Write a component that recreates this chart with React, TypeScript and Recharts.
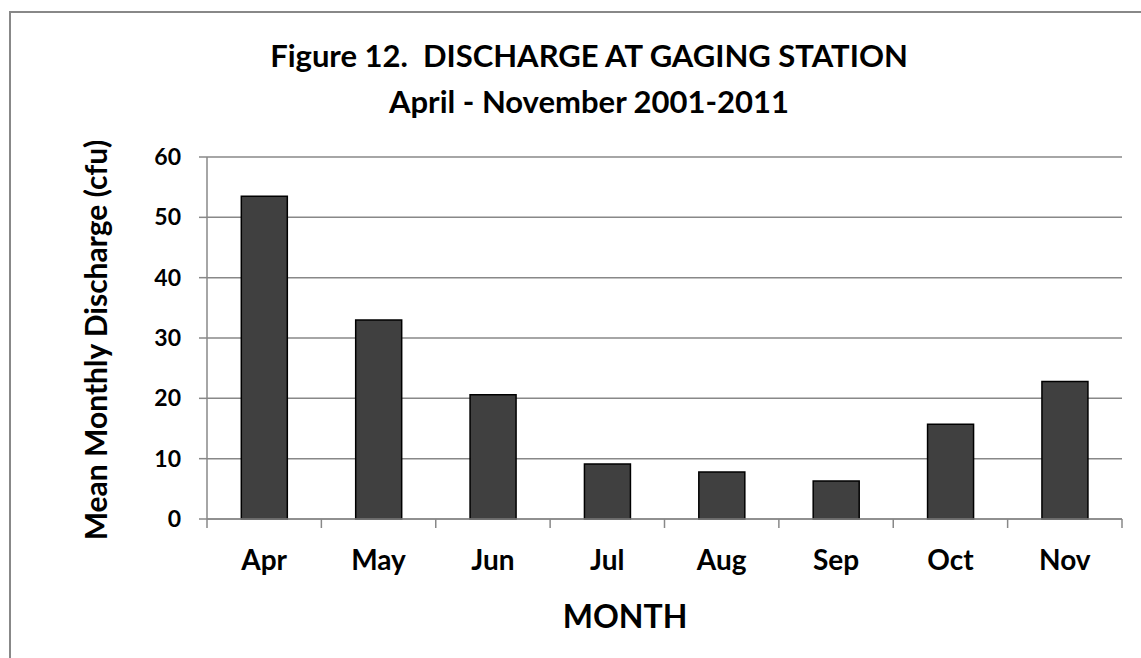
import React from "react";
import { BarChart, Bar, XAxis, YAxis, CartesianGrid, Label } from "recharts";

const months = ["Apr", "May", "Jun", "Jul", "Aug", "Sep", "Oct", "Nov"];
const meanDischarge = [53.5, 33.0, 20.6, 9.1, 7.8, 6.3, 15.7, 22.8];
const yTicks = [0, 10, 20, 30, 40, 50, 60];

const titleLines = ["Figure 12.  DISCHARGE AT GAGING STATION", "April - November 2001-2011"];

const FONT = "Lato, 'Liberation Sans', sans-serif";
const GRID = "#888888";

const data = months.map((m, i) => ({ month: m, discharge: meanDischarge[i] }));

// category ticks: label in the middle, tick marks on the band edges (like Excel)
const MonthTick = (props: any) => {
  const { x, y, payload, index } = props;
  const half = payload && payload.offset ? payload.offset : 57.2;
  const last = index === months.length - 1;
  return (
    <g>
      <line x1={x - half} y1={y - 9} x2={x - half} y2={y} stroke={GRID} strokeWidth={1.5} />
      {last && <line x1={x + half} y1={y - 9} x2={x + half} y2={y} stroke={GRID} strokeWidth={1.5} />}
      <text x={x} y={y + 32} dy="0.35em" textAnchor="middle" fontSize={28} fontWeight="bold" fontFamily={FONT} fill="#000">
        {payload.value}
      </text>
    </g>
  );
};

const YTitle = (props: any) => {
  const vb = props.viewBox || { x: 0, y: 0, width: 0, height: 0 };
  const cx = 95;
  const cy = vb.y + vb.height / 2 + 2;
  return (
    <text x={cx} y={cy} transform={`rotate(-90 ${cx} ${cy})`} textAnchor="middle" dominantBaseline="central"
      fontSize={30} fontWeight="bold" fontFamily={FONT} fill="#000">
      Mean Monthly Discharge (cfu)
    </text>
  );
};

const XTitle = (props: any) => {
  const vb = props.viewBox || { x: 0, y: 0, width: 0, height: 0 };
  return (
    <text x={625} y={vb.y + 96} dominantBaseline="central" textAnchor="middle"
      fontSize={32} fontWeight="bold" fontFamily={FONT} fill="#000">
      MONTH
    </text>
  );
};

export default function App() {
  return (
    <div style={{ position: "absolute", left: 0, top: 0, width: 1141, height: 658, overflow: "hidden", background: "#fff" }}>
      <div style={{ position: "absolute", left: 9, top: 11, width: 1200, height: 700, borderLeft: `2px solid ${GRID}`, borderTop: `2px solid ${GRID}` }} />
      <svg width={1141} height={130} style={{ position: "absolute", left: 0, top: 0 }}>
        {titleLines.map((t, i) => (
          <text key={i} x={589} y={67 + i * 46} textAnchor="middle" fontFamily={FONT} fontWeight="bold" fontSize={31}
            fill="#000" style={{ whiteSpace: "pre" }}>
            {t}
          </text>
        ))}
      </svg>
      <div style={{ position: "absolute", left: 0, top: 0 }}>
        <BarChart width={1141} height={658} data={data} margin={{ top: 157, right: 19, bottom: 0, left: 7 }} barCategoryGap="30%">
          <CartesianGrid vertical={false} stroke={GRID} strokeWidth={1.5} />
          <XAxis dataKey="month" height={139} tickLine={false} tickSize={9} tickMargin={0}
            axisLine={{ stroke: GRID, strokeWidth: 1.5 }} tick={<MonthTick />} interval={0}>
            <Label content={<XTitle />} />
          </XAxis>
          <YAxis width={200} domain={[0, 60]} ticks={yTicks} interval={0} tickSize={8} tickMargin={18}
            tickLine={{ stroke: GRID, strokeWidth: 1.5 }} axisLine={{ stroke: GRID, strokeWidth: 1.5 }}
            tick={{ fontSize: 23, fontWeight: "bold", fontFamily: FONT, fill: "#000" }}>
            <Label content={<YTitle />} />
          </YAxis>
          <Bar dataKey="discharge" fill="#404040" stroke="#000" strokeWidth={1.5} isAnimationActive={false} />
        </BarChart>
      </div>
    </div>
  );
}
